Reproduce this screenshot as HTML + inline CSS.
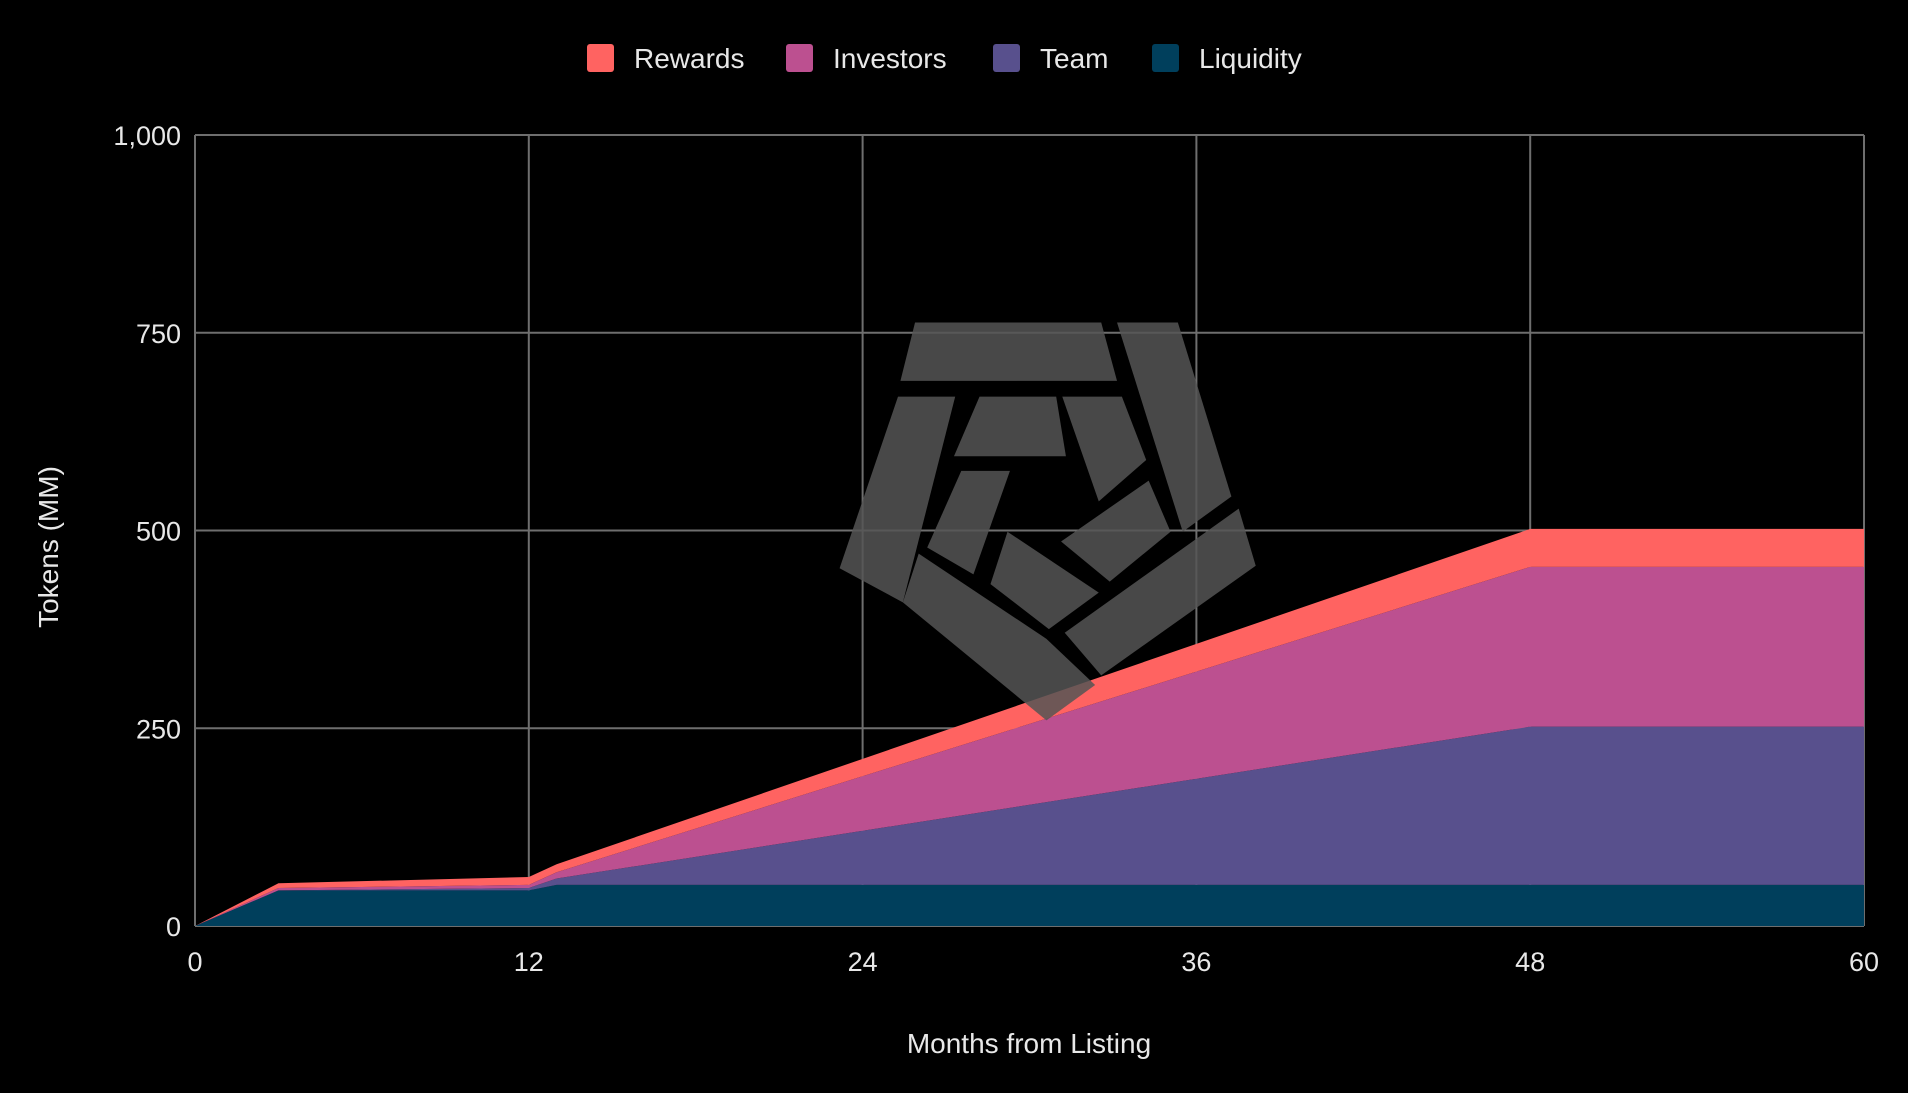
<!DOCTYPE html>
<html><head><meta charset="utf-8"><style>
html,body{margin:0;padding:0;background:#000;}
svg{display:block;font-family:"Liberation Sans",sans-serif;}
</style></head><body>
<svg id="chart" width="1908" height="1093" viewBox="0 0 1908 1093">
<rect width="1908" height="1093" fill="#000"/>
<g id="grid"></g>
<g id="areas"></g>
<g id="watermark" transform="scale(1.2168)" fill="#555" opacity="0.85">
<polygon points="752,265 905,265 918,313 740,313"/>
<polygon points="918,265 968,265 1012,408 972,437"/>
<polygon points="738,326 785,326 742,495 690,467"/>
<polygon points="805,326 868,326 876,375 784,375"/>
<polygon points="873,326 922,326 942,378 903,412"/>
<polygon points="790,387 830,387 800,472 762,450"/>
<polygon points="828,437 903,487 862,517 814,480"/>
<polygon points="872,445 944,395 962,437 912,478"/>
<polygon points="755,455 860,525 900,563 860,592 742,495"/>
<polygon points="875,520 1018,418 1032,465 905,555"/>
</g>
<g id="axes"></g>
<g id="legend"></g>
<text x="1029" y="1053" font-size="28" fill="#e8e8e8" text-anchor="middle">Months from Listing</text>
<text transform="translate(58,547) rotate(-90)" font-size="28" fill="#e8e8e8" text-anchor="middle">Tokens (MM)</text>
</svg>
<script>
const months = [0, 3, 12, 13, 48, 60];
const liquidity = [0, 45, 45, 52, 52, 52];
const team = [0, 0, 3, 8, 200, 200];
const investors = [0, 3, 4, 8, 202, 202];
const rewards = [0, 6, 10, 10, 48, 48];
const seriesNames = ["Liquidity", "Team", "Investors", "Rewards"];
const seriesColors = ["#003f5c", "#58508d", "#bc5090", "#ff6361"];
const yTicks = [0, 250, 500, 750, 1000];
const yTickLabels = ["0", "250", "500", "750", "1,000"];
const xTicks = [0, 12, 24, 36, 48, 60];

const NS = "http://www.w3.org/2000/svg";
const L = 195, R = 1864, T = 135, B = 926;
const xS = m => L + (m / 60) * (R - L);
const yS = v => B - (v / 1000) * (B - T);
function mk(tag, attrs, parent) {
  const e = document.createElementNS(NS, tag);
  for (const k in attrs) e.setAttribute(k, attrs[k]);
  parent.appendChild(e);
  return e;
}
const grid = document.getElementById('grid');
const axes = document.getElementById('axes');
yTicks.forEach((v, i) => {
  const ln = mk('line', {x1: L, x2: R, y1: yS(v), y2: yS(v), stroke: '#6e6e6e', 'stroke-width': 2}, grid);
  
  
  const t = mk('text', {x: L - 14, y: yS(v) + 10, 'font-size': 27, fill: '#e8e8e8', 'text-anchor': 'end'}, axes);
  t.textContent = yTickLabels[i];
  
  
});
xTicks.forEach(m => {
  const ln = mk('line', {x1: xS(m), x2: xS(m), y1: T, y2: B, stroke: '#6e6e6e', 'stroke-width': 2}, grid);
  
  
  const t = mk('text', {x: xS(m), y: B + 45, 'font-size': 27, fill: '#e8e8e8', 'text-anchor': 'middle'}, axes);
  t.textContent = String(m);
  
  
});
const data = [liquidity, team, investors, rewards];
const areas = document.getElementById('areas');
let base = months.map(() => 0);
data.forEach((s, si) => {
  const top = base.map((b, i) => b + s[i]);
  let pts = months.map((m, i) => xS(m) + ',' + yS(top[i]));
  for (let i = months.length - 1; i >= 0; i--) pts.push(xS(months[i]) + ',' + yS(base[i]));
  const p = mk('polygon', {points: pts.join(' '), fill: seriesColors[si]}, areas);
  
  
  base = top;
});
const legend = document.getElementById('legend');
const legendOrder = [3, 2, 1, 0];
const legendX = [587, 786, 993, 1152];
legendOrder.forEach((si, k) => {
  const r = mk('rect', {x: legendX[k], y: 44, width: 27, height: 28, rx: 3, fill: seriesColors[si]}, legend);
  
  
  const t = mk('text', {x: legendX[k] + 47, y: 68, 'font-size': 28, fill: '#e8e8e8'}, legend);
  t.textContent = seriesNames[si];
  
  
});
</script>
</body></html>
